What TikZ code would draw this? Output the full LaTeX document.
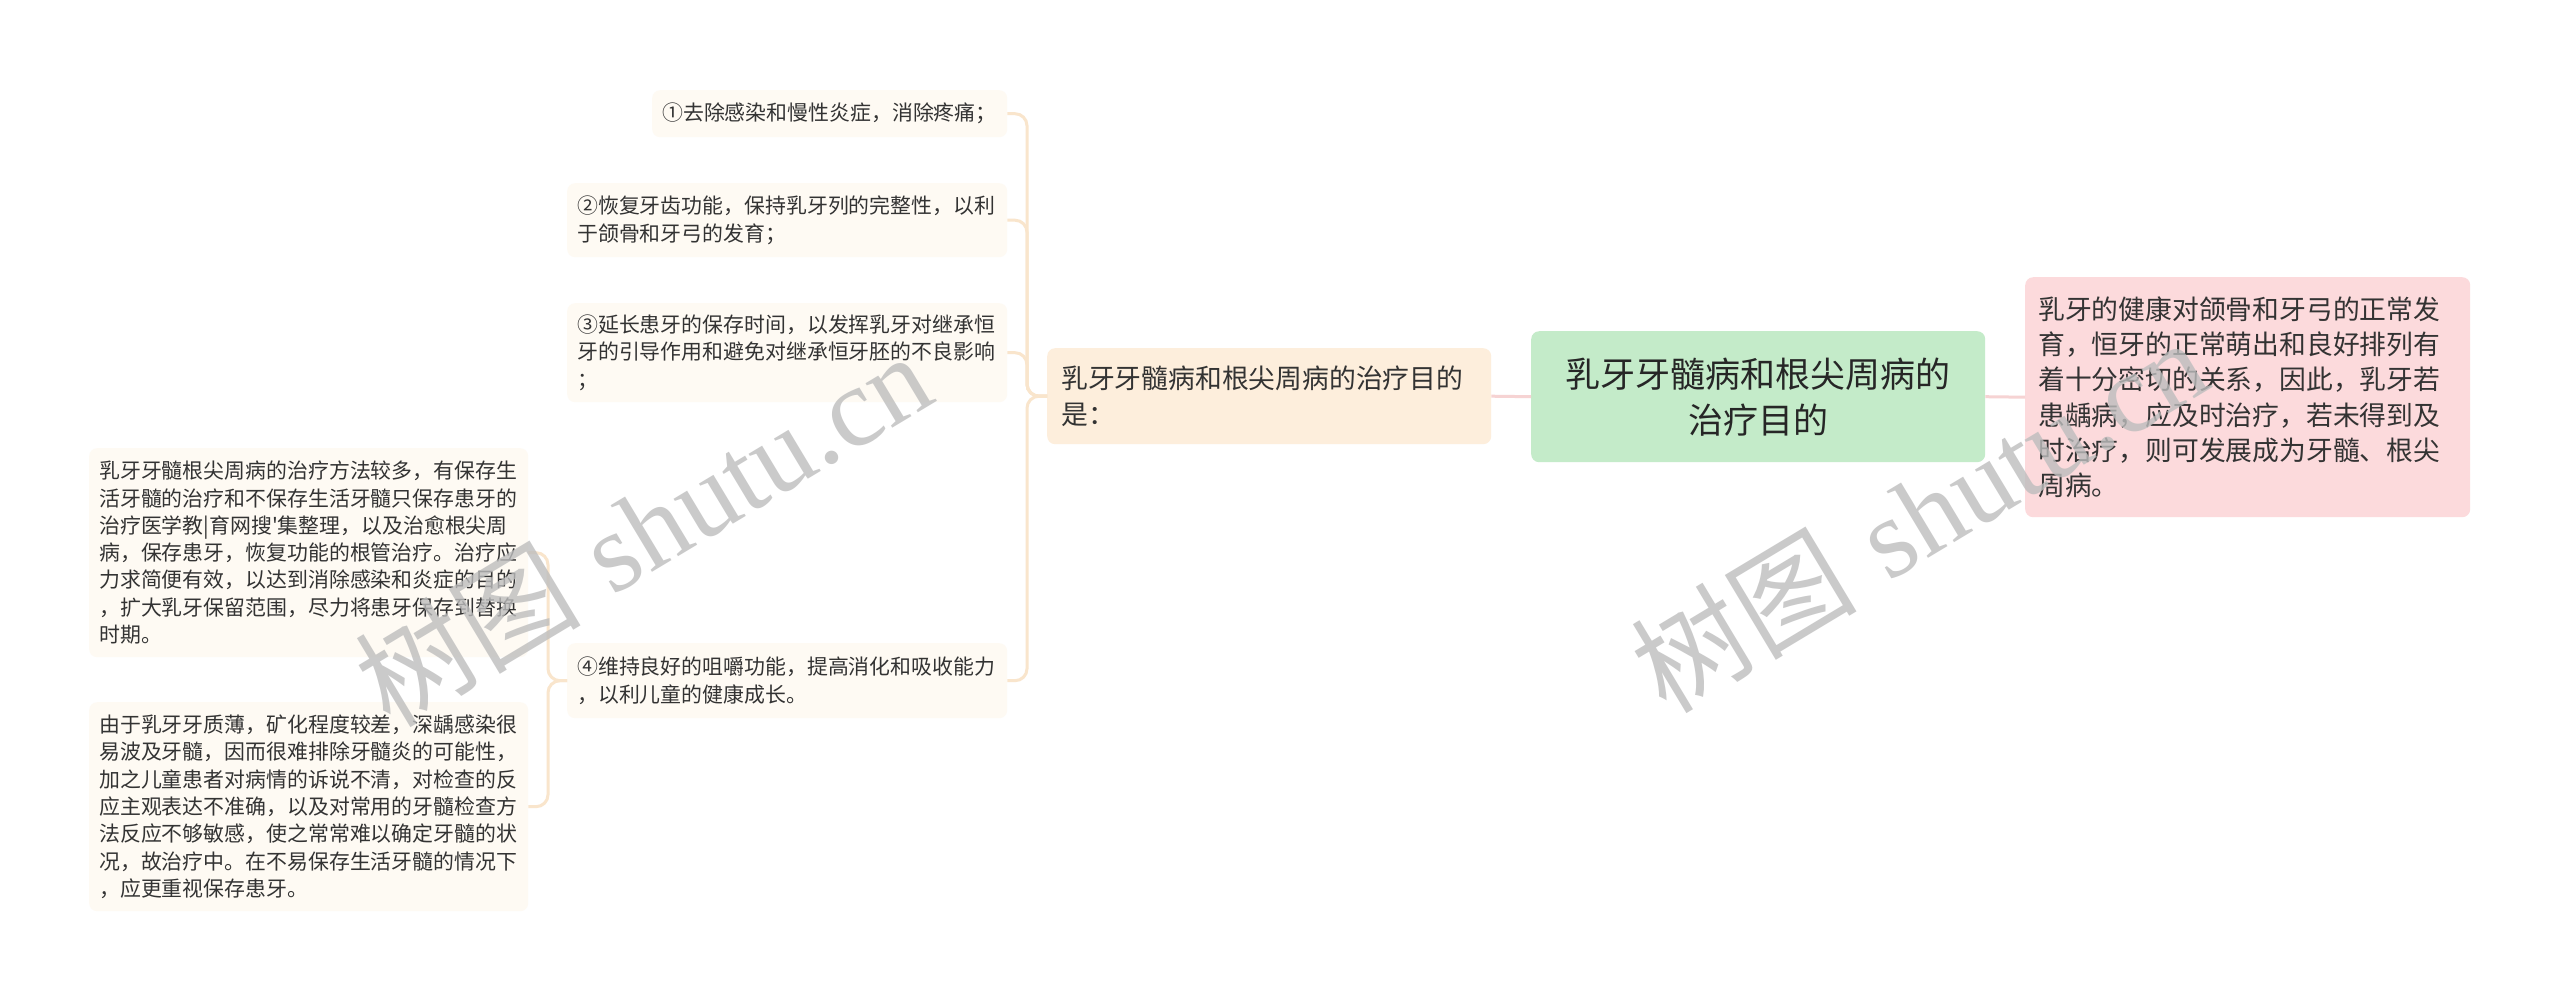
\documentclass[tikz,border=0pt]{standalone}
\usepackage{fontspec}
\newfontfamily\cjk{Noto Sans CJK SC}
\newfontfamily\wmserif{Liberation Serif}
\definecolor{leaffill}{HTML}{FEFAF3}
\definecolor{midfill}{HTML}{FDEEDC}
\definecolor{rootfill}{HTML}{C4EBC9}
\definecolor{pinkfill}{HTML}{FCDADC}
\definecolor{orline}{HTML}{F9E5CC}
\definecolor{pkline}{HTML}{F6D3D3}
\definecolor{txt}{HTML}{333333}
\definecolor{wmgray}{HTML}{BDBDBD}
\begin{document}
\begin{tikzpicture}[x=1pt,y=-1pt,
  box/.style={rounded corners=8pt, inner sep=0pt, anchor=north west, text=txt},
  leaf/.style={box, fill=leaffill, align=left, font=\cjk\fontsize{20.9}{27.3}\selectfont},
  midbox/.style={box, fill=midfill, align=left, font=\cjk\fontsize{26.8}{35.3}\selectfont},
  pinkbox/.style={box, fill=pinkfill, align=left, font=\cjk\fontsize{26.8}{35.3}\selectfont},
  rootbox/.style={box, fill=rootfill, align=center, text=black!85, font=\cjk\fontsize{35}{46}\selectfont},
  orconn/.style={draw=orline, line width=3pt, rounded corners=12pt},
  pkconn/.style={draw=pkline, line width=3pt},
  wm/.style={text=wmgray, opacity=0.8, anchor=base west, inner sep=0pt, rotate=31}
]
\fill[white] (0,0) rectangle (2560,1002);
\path[use as bounding box] (0,0) rectangle (2560,1002);

% root and right
\node[rootbox, minimum width=454, minimum height=131, text width=420] (root) at (1531,331)
  {乳牙牙髓病和根尖周病的\\治疗目的};
\node[pinkbox, minimum width=445, minimum height=240, text width=419] (pink) at (2025,277)
  {乳牙的健康对颌骨和牙弓的正常发\\育，恒牙的正常萌出和良好排列有\\着十分密切的关系，因此，乳牙若\\患龋病，应及时治疗，若未得到及\\时治疗，则可发展成为牙髓、根尖\\周病。};
\node[midbox, minimum width=444, minimum height=96, text width=416] (mid) at (1047,348)
  {乳牙牙髓病和根尖周病的治疗目的\\是：};

% leaves
\node[leaf, minimum width=355, minimum height=47, text width=335] (l1) at (652,90)
  {①去除感染和慢性炎症，消除疼痛；};
\node[leaf, minimum width=440, minimum height=74, text width=420] (l2) at (567,183)
  {②恢复牙齿功能，保持乳牙列的完整性，以利\\于颌骨和牙弓的发育；};
\node[leaf, minimum width=440, minimum height=99, text width=420] (l3) at (567,303)
  {③延长患牙的保存时间，以发挥乳牙对继承恒\\牙的引导作用和避免对继承恒牙胚的不良影响\\；};
\node[leaf, minimum width=440, minimum height=75, text width=420] (l4) at (567,643)
  {④维持良好的咀嚼功能，提高消化和吸收能力\\，以利儿童的健康成长。};
\node[leaf, minimum width=439, minimum height=209, text width=419] (la) at (89,448)
  {乳牙牙髓根尖周病的治疗方法较多，有保存生\\活牙髓的治疗和不保存生活牙髓只保存患牙的\\治疗医学教|育网搜'集整理，以及治愈根尖周\\病，保存患牙，恢复功能的根管治疗。治疗应\\力求简便有效，以达到消除感染和炎症的目的\\，扩大乳牙保留范围，尽力将患牙保存到替换\\时期。};
\node[leaf, minimum width=439, minimum height=209, text width=419] (lb) at (89,702)
  {由于乳牙牙质薄，矿化程度较差，深龋感染很\\易波及牙髓，因而很难排除牙髓炎的可能性，\\加之儿童患者对病情的诉说不清，对检查的反\\应主观表达不准确，以及对常用的牙髓检查方\\法反应不够敏感，使之常常难以确定牙髓的状\\况，故治疗中。在不易保存生活牙髓的情况下\\，应更重视保存患牙。};

% connectors
\draw[pkconn] (root.west) -- (mid.east);
\draw[pkconn] (root.east) -- (pink.west);
\foreach \t in {l1,l2,l3,l4}
  \draw[orconn] (mid.west) -- ++(-20,0) |- (\t.east);
\foreach \t in {la,lb}
  \draw[orconn] (l4.west) -- ++(-19,0) |- (\t.east);

% watermarks
\node[wm] (wm1) at (390,730) {\cjk\fontsize{113}{113}\selectfont 树图\hspace{0.3em}\wmserif shutu.cn};
\node[wm] (wm2) at (1666,716) {\cjk\fontsize{113}{113}\selectfont 树图\hspace{0.3em}\wmserif shutu.cn};
\end{tikzpicture}
\end{document}
